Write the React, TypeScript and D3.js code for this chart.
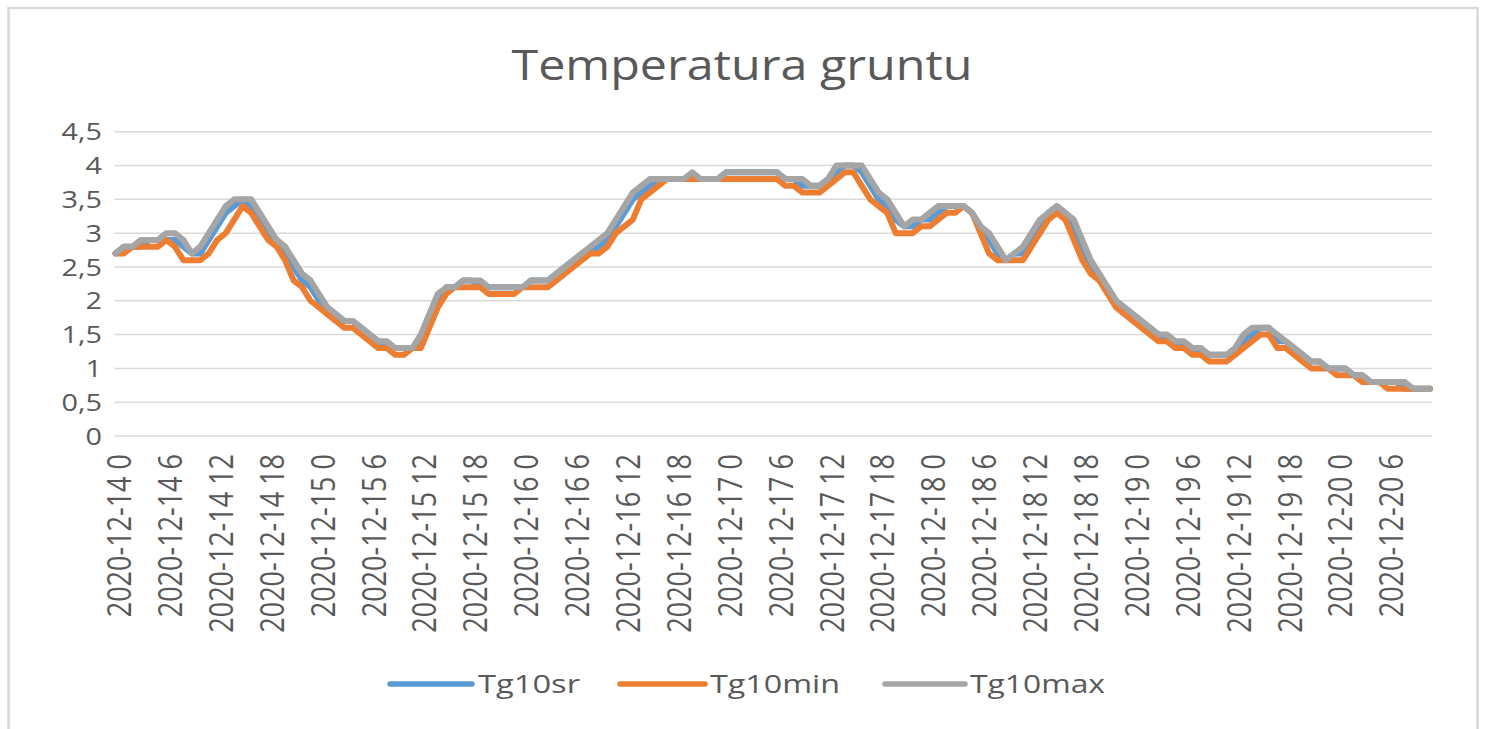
import React from "react";
import * as d3 from "d3";

const days = ["14", "15", "16", "17", "18", "19", "20"];
const hoursCount = 156;

const tg10sr = [
  2.7,2.8,2.8,2.8,2.9,2.9,2.9,2.9,2.8,2.7,2.7,2.9,
  3.1,3.3,3.4,3.5,3.4,3.2,3.0,2.9,2.7,2.5,2.3,2.2,
  2.0,1.9,1.8,1.7,1.7,1.6,1.5,1.4,1.3,1.3,1.3,1.3,
  1.4,1.7,2.0,2.2,2.2,2.3,2.3,2.2,2.2,2.2,2.2,2.2,
  2.2,2.3,2.3,2.3,2.4,2.5,2.6,2.7,2.7,2.8,2.9,3.1,
  3.3,3.5,3.6,3.7,3.8,3.8,3.8,3.8,3.8,3.8,3.8,3.8,
  3.9,3.9,3.9,3.9,3.9,3.9,3.9,3.8,3.8,3.7,3.7,3.7,
  3.8,3.9,4.0,4.0,3.9,3.7,3.5,3.4,3.2,3.1,3.1,3.2,
  3.2,3.3,3.4,3.4,3.4,3.3,3.1,2.9,2.7,2.6,2.7,2.7,
  2.9,3.1,3.3,3.4,3.3,3.1,2.8,2.5,2.3,2.2,2.0,1.9,
  1.8,1.7,1.6,1.5,1.4,1.4,1.3,1.3,1.2,1.2,1.2,1.2,
  1.2,1.4,1.5,1.6,1.6,1.4,1.4,1.3,1.2,1.1,1.1,1.0,
  1.0,1.0,0.9,0.9,0.8,0.8,0.8,0.8,0.7,0.7,0.7,0.7,
];

const tg10min = [
  2.7,2.7,2.8,2.8,2.8,2.8,2.9,2.8,2.6,2.6,2.6,2.7,
  2.9,3.0,3.2,3.4,3.3,3.1,2.9,2.8,2.6,2.3,2.2,2.0,
  1.9,1.8,1.7,1.6,1.6,1.5,1.4,1.3,1.3,1.2,1.2,1.3,
  1.3,1.6,1.9,2.1,2.2,2.2,2.2,2.2,2.1,2.1,2.1,2.1,
  2.2,2.2,2.2,2.2,2.3,2.4,2.5,2.6,2.7,2.7,2.8,3.0,
  3.1,3.2,3.5,3.6,3.7,3.8,3.8,3.8,3.8,3.8,3.8,3.8,
  3.8,3.8,3.8,3.8,3.8,3.8,3.8,3.7,3.7,3.6,3.6,3.6,
  3.7,3.8,3.9,3.9,3.7,3.5,3.4,3.3,3.0,3.0,3.0,3.1,
  3.1,3.2,3.3,3.3,3.4,3.3,3.0,2.7,2.6,2.6,2.6,2.6,
  2.8,3.0,3.2,3.3,3.2,2.9,2.6,2.4,2.3,2.1,1.9,1.8,
  1.7,1.6,1.5,1.4,1.4,1.3,1.3,1.2,1.2,1.1,1.1,1.1,
  1.2,1.3,1.4,1.5,1.5,1.3,1.3,1.2,1.1,1.0,1.0,1.0,
  0.9,0.9,0.9,0.8,0.8,0.8,0.7,0.7,0.7,0.7,0.7,0.7,
];

const tg10max = [
  2.7,2.8,2.8,2.9,2.9,2.9,3.0,3.0,2.9,2.7,2.8,3.0,
  3.2,3.4,3.5,3.5,3.5,3.3,3.1,2.9,2.8,2.6,2.4,2.3,
  2.1,1.9,1.8,1.7,1.7,1.6,1.5,1.4,1.4,1.3,1.3,1.3,
  1.5,1.8,2.1,2.2,2.2,2.3,2.3,2.3,2.2,2.2,2.2,2.2,
  2.2,2.3,2.3,2.3,2.4,2.5,2.6,2.7,2.8,2.9,3.0,3.2,
  3.4,3.6,3.7,3.8,3.8,3.8,3.8,3.8,3.9,3.8,3.8,3.8,
  3.9,3.9,3.9,3.9,3.9,3.9,3.9,3.8,3.8,3.8,3.7,3.7,
  3.8,4.0,4.0,4.0,4.0,3.8,3.6,3.5,3.3,3.1,3.2,3.2,
  3.3,3.4,3.4,3.4,3.4,3.3,3.1,3.0,2.8,2.6,2.7,2.8,
  3.0,3.2,3.3,3.4,3.3,3.2,2.9,2.6,2.4,2.2,2.0,1.9,
  1.8,1.7,1.6,1.5,1.5,1.4,1.4,1.3,1.3,1.2,1.2,1.2,
  1.3,1.5,1.6,1.6,1.6,1.5,1.4,1.3,1.2,1.1,1.1,1.0,
  1.0,1.0,0.9,0.9,0.8,0.8,0.8,0.8,0.8,0.7,0.7,0.7,
];

const yTicks = [0, 0.5, 1, 1.5, 2, 2.5, 3, 3.5, 4, 4.5];
const seriesNames = ["Tg10sr", "Tg10min", "Tg10max"];
const seriesColors = ["#5B9BD5", "#ED7D31", "#A5A5A5"];
const title = "Temperatura gruntu";

const categories: string[] = [];
for (let i = 0; i < hoursCount; i++) {
  categories.push(`2020-12-${days[Math.floor(i / 24)]} ${i % 24}`);
}
const tickEvery = 6;

const W = 1485;
const H = 729;
const plotLeft = 115.5;
const plotRight = 1430;
const plotTop = 131.7;
const plotBottom = 436;
const gridRight = 1432;
const textColor = "#595959";
const font = "'Open Sans', sans-serif";

export default function App() {
  const x = d3.scalePoint<string>().domain(categories).range([plotLeft, plotRight]);
  const y = d3.scaleLinear().domain([0, 4.5]).range([plotBottom, plotTop]);
  const line = d3
    .line<number>()
    .x((_, i) => x(categories[i]) as number)
    .y((d) => y(d));
  const data = [tg10sr, tg10min, tg10max];
  const fmt = (v: number) => String(v).replace(".", ",");

  const legendItems = [
    { x1: 390, x2: 472, tx: 478, tl: 102 },
    { x1: 620, x2: 705, tx: 710, tl: 130 },
    { x1: 885, x2: 965, tx: 970, tl: 135 },
  ];

  return (
    <svg
      width={W}
      height={H}
      style={{ position: "absolute", left: 0, top: 0, background: "#fff" }}
    >
      <rect x={0} y={0} width={W} height={H} fill="#fff" />
      <rect
        x={8.5}
        y={8}
        width={1469}
        height={740}
        fill="#fff"
        stroke="#d9d9d9"
        strokeWidth={2.5}
      />
      <text
        x={742}
        y={80}
        textAnchor="middle"
        fontFamily={font}
        fontSize={42}
        fill={textColor}
        textLength={461}
        lengthAdjust="spacingAndGlyphs"
      >
        {title}
      </text>
      {yTicks.map((t) => (
        <line
          key={t}
          x1={plotLeft - 1}
          x2={gridRight}
          y1={y(t)}
          y2={y(t)}
          stroke="#d9d9d9"
          strokeWidth={1.5}
        />
      ))}
      {yTicks.map((t) => (
        <text
          key={"l" + t}
          transform={`translate(102, ${y(t)}) scale(1.2,1)`}
          textAnchor="end"
          dy="0.36em"
          fontFamily={font}
          fontSize={24}
          fill={textColor}
        >
          {fmt(t)}
        </text>
      ))}
      {categories.map((c, i) =>
        i % tickEvery === 0 ? (
          <text
            key={c}
            transform={`translate(${(x(c) as number) + 4}, 454) scale(1.2,1) rotate(-90)`}
            textAnchor="end"
            dy="0.36em"
            fontFamily={font}
            fontSize={27}
            fill={textColor}
          >
            {c}
          </text>
        ) : null
      )}
      {data.map((d, k) => (
        <path
          key={seriesNames[k]}
          d={line(d) || ""}
          fill="none"
          stroke={seriesColors[k]}
          strokeWidth={6}
          strokeLinejoin="round"
          strokeLinecap="round"
        />
      ))}
      {legendItems.map((it, k) => (
        <g key={"lg" + k}>
          <line
            x1={it.x1}
            x2={it.x2}
            y1={684}
            y2={684}
            stroke={seriesColors[k]}
            strokeWidth={5.5}
            strokeLinecap="round"
          />
          <text
            x={it.tx}
            y={684}
            dy="0.36em"
            fontFamily={font}
            fontSize={26}
            fill={textColor}
            textLength={it.tl}
            lengthAdjust="spacingAndGlyphs"
          >
            {seriesNames[k]}
          </text>
        </g>
      ))}
    </svg>
  );
}
